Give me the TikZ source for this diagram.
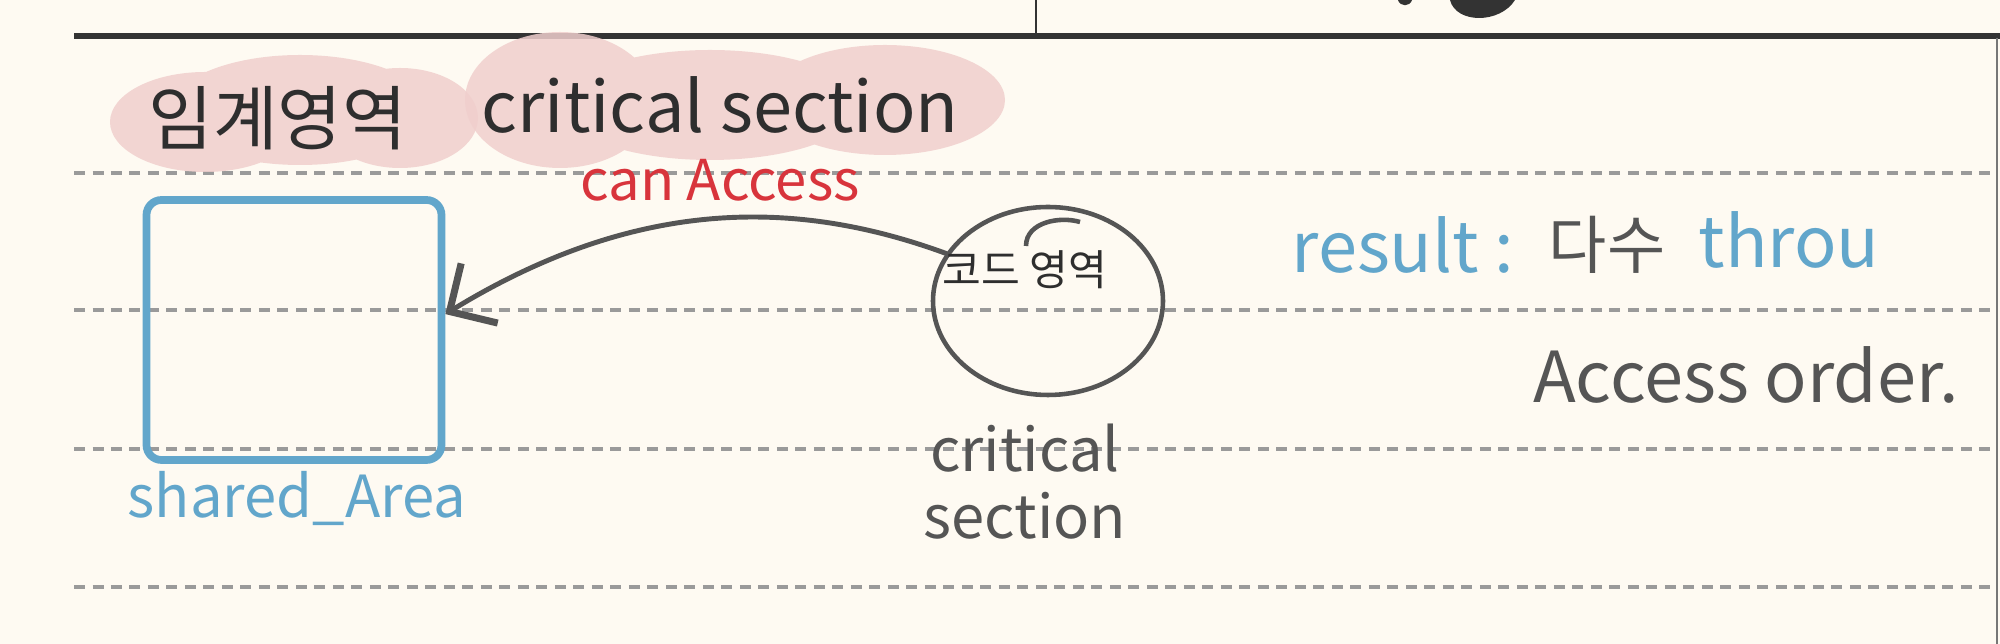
\documentclass[tikz,border=0pt]{standalone}
\usepackage{fontspec}
\setmainfont{Noto Sans CJK KR}
\usetikzlibrary{arrows.meta,shapes.geometric}
\definecolor{paper}{HTML}{FEFAF2}
\definecolor{rulebar}{HTML}{333333}
\definecolor{edgegray}{HTML}{777777}
\definecolor{rulegray}{HTML}{9A9A9A}
\definecolor{hilite}{HTML}{F0CFCD}
\definecolor{inkdark}{HTML}{2E2E2E}
\definecolor{inkgray}{HTML}{555555}
\definecolor{inkblue}{HTML}{62A6CB}
\definecolor{inkred}{HTML}{D8343C}
\tikzset{
  ruled/.style={draw=rulegray, line width=1pt, dash pattern=on 1.1mm off 0.75mm},
  hand/.style={inner sep=0pt, font=\fontsize{#1}{#1}\selectfont},
  hand/.default=20,
  sharebox/.style={draw=inkblue, line width=2.2pt, rounded corners=1.5mm,
    minimum width=29.5mm, minimum height=26mm},
  csring/.style={ellipse, draw=inkgray, line width=1.3pt, inner sep=0pt,
    minimum width=23mm, minimum height=18.8mm},
  accessline/.style={draw=inkgray, line width=1.4pt, line cap=round,
    -{Straight Barb[length=3.5mm,width=7mm,line width=2pt]}}
}
\begin{document}
\begin{tikzpicture}[x=0.1mm,y=-0.1mm]
\useasboundingbox[fill=paper] (0,0) rectangle (2000,644);
% page rules
\draw[line width=1.7pt, draw=rulebar] (74,36) -- (2000,36);
\draw[line width=0.8pt, draw=rulebar] (1036,0) -- (1036,36);
\draw[line width=0.6pt, draw=edgegray] (1997,38) -- (1997,644);
\foreach \y in {173,310,449,587}
  \draw[ruled] (74,\y) -- (1995,\y);
% ink from the page above
\fill[rulebar] (1450,0) .. controls (1456,24) and (1500,24) .. (1515,0) -- cycle;
\fill[rulebar] (1398,0) .. controls (1400,7) and (1410,7) .. (1412,0) -- cycle;
% highlight
\fill[hilite, opacity=0.85] (205,122) ellipse [x radius=95, y radius=50]
  (300,110) ellipse [x radius=130, y radius=55]
  (400,118) ellipse [x radius=78, y radius=50];
\fill[hilite, opacity=0.85] (560,100) ellipse [x radius=95, y radius=68]
  (710,105) ellipse [x radius=150, y radius=55]
  (885,100) ellipse [x radius=120, y radius=55];
% title
\node[hand, text=inkdark] (title) at (278,118) {임계영역};
\node[hand, text=inkdark] (titleen) at (720,105) {critical section};
\node[hand=16, text=inkred] (access) at (720,180) {can Access};
% shared area
\node[sharebox] (area) at (294,330) {};
\node[hand=16.5, text=inkblue] (arealbl) at (297,498) {shared\_Area};
% critical section
\node[csring] (cs) at (1048,301) {};
\draw[inkgray, line width=1.3pt] (1026,246) .. controls (1026,222) and (1060,216) .. (1080,222);
\node[hand=12, text=inkdark] (code) at (1025,270) {코드 영역};
\node[hand=17, text=inkgray, align=center] (cslbl) at (1025,482) {critical\\[2pt]section};
\draw[accessline] (cs.155) .. controls (800,200) and (640,195) .. (area.6);
% result
\node[hand, text=inkblue] (result) at (1403,245) {result :};
\node[hand=18, text=inkgray] (multi) at (1607,245) {다수};
\node[hand, text=inkblue] (thr) at (1789,240) {throu};
\node[hand, text=inkgray] (order) at (1746,375) {Access order.};
\end{tikzpicture}
\end{document}
